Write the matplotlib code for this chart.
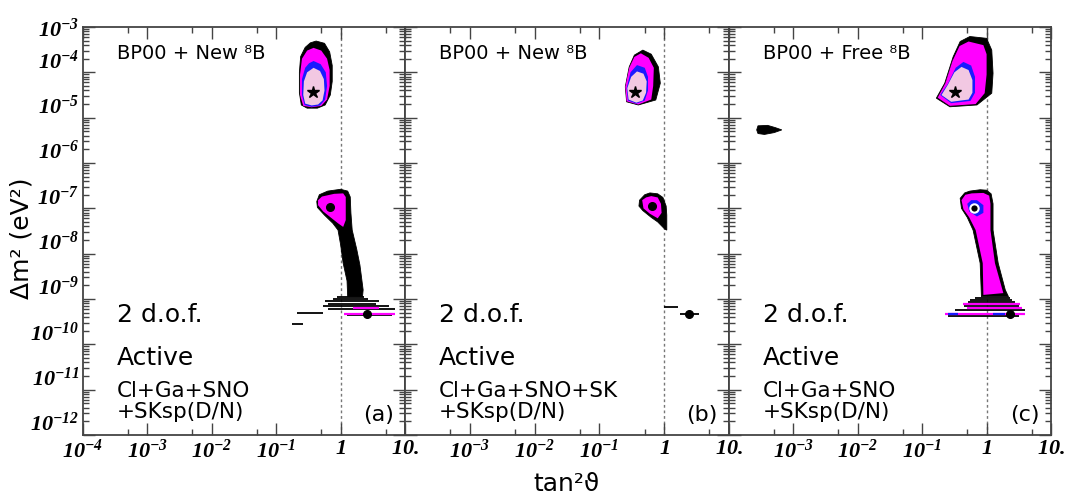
import numpy as np
import matplotlib
matplotlib.use('Agg')
import matplotlib.pyplot as plt
from matplotlib.ticker import FixedLocator, FixedFormatter, NullFormatter

plt.rcParams['font.family'] = ['DejaVu Sans']
plt.rcParams['mathtext.fontset'] = 'custom'
plt.rcParams['mathtext.rm'] = 'Liberation Serif:bold:italic'
plt.rcParams['mathtext.it'] = 'Liberation Serif:bold:italic'
plt.rcParams['mathtext.bf'] = 'Liberation Serif:bold:italic'

# ---------------- data (log10 tan^2, log10 dm^2) ----------------
# panel (a)
a_lma_3s = [(-0.38,-3.31),(-0.25,-3.36),(-0.17,-3.55),(-0.13,-3.85),(-0.13,-4.2),(-0.16,-4.5),(-0.24,-4.72),
            (-0.36,-4.79),(-0.52,-4.79),(-0.61,-4.72),(-0.64,-4.45),(-0.64,-4.0),(-0.62,-3.65),(-0.55,-3.45),(-0.47,-3.35)]
a_lma_99 = [(-0.42,-3.46),(-0.3,-3.52),(-0.21,-3.7),(-0.17,-3.95),(-0.17,-4.3),(-0.21,-4.6),(-0.3,-4.74),
            (-0.45,-4.77),(-0.58,-4.74),(-0.63,-4.5),(-0.63,-4.05),(-0.6,-3.7),(-0.52,-3.52)]
a_lma_95 = [(-0.42,-3.75),(-0.31,-3.82),(-0.23,-4.0),(-0.21,-4.3),(-0.24,-4.6),(-0.32,-4.73),(-0.45,-4.76),
            (-0.56,-4.72),(-0.6,-4.5),(-0.6,-4.15),(-0.55,-3.9),(-0.49,-3.8)]
a_lma_90 = [(-0.42,-3.9),(-0.32,-3.97),(-0.26,-4.15),(-0.25,-4.4),(-0.28,-4.62),(-0.35,-4.71),(-0.45,-4.73),
            (-0.55,-4.69),(-0.58,-4.5),(-0.57,-4.2),(-0.52,-4.0)]
a_low_3s = [(-0.37,-6.85),(-0.33,-6.70),(-0.2,-6.62),(0.0,-6.58),(0.11,-6.62),(0.15,-6.75),(0.16,-7.1),
            (0.18,-7.48),(0.25,-7.9),(0.30,-8.25),(0.35,-8.8),(0.34,-8.95),(0.11,-8.95),(0.1,-8.6),(0.04,-8.21),
            (0.0,-7.8),(-0.04,-7.48),(-0.12,-7.33),(-0.25,-7.15),(-0.36,-6.98)]
a_low_99 = [(-0.35,-6.82),(-0.29,-6.74),(-0.1,-6.68),(0.04,-6.67),(0.08,-6.75),(0.08,-7.26),(0.04,-7.41),
            (-0.04,-7.33),(-0.27,-7.07),(-0.35,-6.93)]
a_streak_k = [(-8.96,-0.05,0.36),(-9.00,-0.12,0.42),(-9.05,-0.24,0.60),(-9.10,-0.20,0.55),
              (-9.16,-0.27,0.75),(-9.22,-0.20,0.85),(-9.30,-0.68,-0.27),(-9.36,0.10,0.80),
              (-9.55,-0.75,-0.58)]
a_streak_m = [(-9.19,0.20,0.60),(-9.33,0.05,0.85)]
a_star = (-0.43,-4.43)
a_dots = [(-0.165,-6.98),(0.41,-9.33)]

# panel (b)
b_lma_3s = [(-0.33,-3.51),(-0.2,-3.6),(-0.09,-3.88),(-0.06,-4.24),(-0.13,-4.61),(-0.4,-4.72),(-0.58,-4.65),
            (-0.6,-4.32),(-0.54,-3.88),(-0.46,-3.62)]
b_lma_99 = [(-0.36,-3.58),(-0.24,-3.68),(-0.16,-3.9),(-0.17,-4.3),(-0.2,-4.6),(-0.4,-4.71),(-0.58,-4.64),
            (-0.6,-4.32),(-0.54,-3.9),(-0.46,-3.66)]
b_lma_95 = [(-0.42,-3.84),(-0.3,-3.9),(-0.25,-4.1),(-0.25,-4.4),(-0.3,-4.62),(-0.43,-4.69),(-0.56,-4.62),
            (-0.58,-4.35),(-0.52,-4.0)]
b_lma_90 = [(-0.42,-3.98),(-0.32,-4.03),(-0.27,-4.2),(-0.28,-4.45),(-0.33,-4.62),(-0.43,-4.67),(-0.55,-4.6),
            (-0.57,-4.35),(-0.51,-4.1)]
b_low_3s = [(-0.38,-6.82),(-0.3,-6.70),(-0.22,-6.66),(-0.1,-6.68),(-0.02,-6.76),(0.03,-6.95),(0.04,-7.15),
            (0.04,-7.48),(0.01,-7.46),(-0.1,-7.3),(-0.2,-7.2),(-0.33,-7.05),(-0.39,-6.95)]
b_low_99 = [(-0.34,-6.82),(-0.28,-6.76),(-0.2,-6.73),(-0.1,-6.76),(-0.05,-6.9),(-0.04,-7.1),(-0.1,-7.22),
            (-0.22,-7.12),(-0.32,-7.0)]
b_streak_k = [(-9.17,0.0,0.22),(-9.33,0.24,0.53)]
b_streak_m = []
b_star = (-0.455,-4.43)
b_dots = [(-0.185,-6.95),(0.39,-9.33)]

# panel (c)
c_lma_3s = [(-0.26,-3.21),(0.0,-3.25),(0.08,-3.51),(0.10,-4.02),(0.08,-4.46),(-0.15,-4.72),(-0.57,-4.76),
            (-0.78,-4.57),(-0.65,-4.24),(-0.52,-3.66),(-0.41,-3.32)]
c_lma_99 = [(-0.28,-3.32),(-0.05,-3.4),(0.0,-3.6),(0.0,-4.05),(-0.03,-4.46),(-0.17,-4.7),(-0.57,-4.74),
            (-0.76,-4.56),(-0.64,-4.24),(-0.53,-3.75),(-0.42,-3.42)]
c_lma_95 = [(-0.36,-3.77),(-0.24,-3.85),(-0.18,-4.1),(-0.18,-4.45),(-0.25,-4.63),(-0.55,-4.68),(-0.72,-4.5),
            (-0.6,-4.25),(-0.48,-3.9)]
c_lma_90 = [(-0.39,-3.88),(-0.28,-3.95),(-0.22,-4.17),(-0.22,-4.45),(-0.28,-4.6),(-0.55,-4.65),(-0.70,-4.5),
            (-0.6,-4.27),(-0.5,-4.0)]
c_low_3s = [(-0.41,-6.78),(-0.34,-6.66),(-0.26,-6.62),(-0.1,-6.59),(0.0,-6.60),(0.07,-6.68),(0.1,-6.9),
            (0.1,-7.48),(0.18,-8.21),(0.29,-8.8),(0.34,-8.95),(-0.08,-8.95),(-0.1,-8.21),(-0.21,-7.48),
            (-0.3,-7.2),(-0.39,-7.0)]
c_low_99 = [(-0.39,-6.82),(-0.33,-6.7),(-0.23,-6.67),(-0.05,-6.66),(0.04,-6.72),(0.06,-6.9),(0.06,-7.48),
            (0.13,-8.21),(0.26,-8.87),(-0.05,-8.91),(-0.06,-8.21),(-0.17,-7.48),(-0.27,-7.2),(-0.36,-7.02)]
c_low_95 = [(-0.30,-6.90),(-0.24,-6.82),(-0.15,-6.82),(-0.05,-6.93),(-0.05,-7.1),(-0.15,-7.18),(-0.27,-7.07)]
c_low_90 = [(-0.24,-6.93),(-0.16,-6.9),(-0.12,-6.98),(-0.14,-7.07),(-0.22,-7.07)]
c_blob_3s = [(-3.55,-5.18),(-3.4,-5.17),(-3.28,-5.22),(-3.18,-5.27),(-3.3,-5.33),(-3.45,-5.37),(-3.55,-5.35),
             (-3.57,-5.27)]
c_streak_k = [(-8.97,-0.18,0.36),(-9.02,-0.25,0.40),(-9.07,-0.29,0.44),(-9.15,-0.35,0.50),
              (-9.24,-0.49,0.60),(-9.38,-0.60,0.50)]
c_streak_m = [(-9.11,-0.37,0.52),(-9.20,-0.30,0.55),(-9.33,-0.65,0.60)]
c_streak_b = [(-9.33,-0.60,-0.45),(-9.33,0.10,0.28)]
c_star = (-0.49,-4.43)
c_dots = [(-0.196,-7.0),(0.36,-9.33)]

titles = ["BP00 + New \u2078B", "BP00 + New \u2078B", "BP00 + Free \u2078B"]
datasets = ["Cl+Ga+SNO\n+SKsp(D/N)", "Cl+Ga+SNO+SK\n+SKsp(D/N)", "Cl+Ga+SNO\n+SKsp(D/N)"]
letters = ["(a)", "(b)", "(c)"]

y_decades = list(range(-12, -2))
y_labels = ["$10^{%d}$" % d for d in y_decades]
x_decades = [-4, -3, -2, -1, 0, 1]
x_labels = ["$10^{-4}$", "$10^{-3}$", "$10^{-2}$", "$10^{-1}$", "$1$", "$10.$"]

COL_3S = '#000000'
COL_99 = '#ff00ff'
COL_95 = '#1a1aff'
COL_90 = '#f2c8e2'

# ---------------- figure ----------------
fig = plt.figure(figsize=(10.68, 4.94), dpi=100)
lefts = [83/1068, 405/1068, 729/1068]
rights = [405/1068, 729/1068, 1051/1068]
bottom = 1 - 435/494
height = 408/494

panels = [
    dict(regions=[(a_lma_3s, COL_3S), (a_lma_99, COL_99), (a_lma_95, COL_95), (a_lma_90, COL_90),
                  (a_low_3s, COL_3S), (a_low_99, COL_99)],
         sk=a_streak_k, sm=a_streak_m, sb=[], star=a_star, dots=a_dots),
    dict(regions=[(b_lma_3s, COL_3S), (b_lma_99, COL_99), (b_lma_95, COL_95), (b_lma_90, COL_90),
                  (b_low_3s, COL_3S), (b_low_99, COL_99)],
         sk=b_streak_k, sm=b_streak_m, sb=[], star=b_star, dots=b_dots),
    dict(regions=[(c_lma_3s, COL_3S), (c_lma_99, COL_99), (c_lma_95, COL_95), (c_lma_90, COL_90),
                  (c_low_3s, COL_3S), (c_low_99, COL_99), (c_low_95, COL_95), (c_low_90, COL_90),
                  (c_blob_3s, COL_3S)],
         sk=c_streak_k, sm=c_streak_m, sb=c_streak_b, star=c_star, dots=c_dots),
]

frame_col = '#444444'
for i, p in enumerate(panels):
    ax = fig.add_axes([lefts[i], bottom, rights[i] - lefts[i], height])
    ax.set_xscale('log')
    ax.set_yscale('log')
    ax.set_xlim(1e-4, 10)
    ax.set_ylim(1e-12, 1e-3)

    ax.axvline(1, color='#777777', ls=(0, (2, 2)), lw=1, zorder=1)

    for poly, col in p['regions']:
        arr = np.array(poly)
        ax.fill(10**arr[:, 0], 10**arr[:, 1], color=col, lw=0.6 if col == COL_3S else 0,
                ec=col, zorder=2)
    for ly, x0, x1 in p['sk']:
        ax.hlines(10**ly, 10**x0, 10**x1, colors='k', lw=1.3, zorder=3)
    for ly, x0, x1 in p['sm']:
        ax.hlines(10**ly, 10**x0, 10**x1, colors=COL_99, lw=1.6, zorder=3)
    for ly, x0, x1 in p['sb']:
        ax.hlines(10**ly, 10**x0, 10**x1, colors=COL_95, lw=1.6, zorder=3)
    sx, sy = p['star']
    ax.plot([10**sx], [10**sy], marker='*', ms=9, color='k', zorder=5, ls='none')
    for j, (dx, dy) in enumerate(p['dots']):
        if i == 2 and j == 0:
            ax.plot([10**dx], [10**dy], marker='o', ms=6, color='k', mec='white', mew=1.5,
                    zorder=5, ls='none')
        else:
            ax.plot([10**dx], [10**dy], marker='o', ms=5.5, color='k', zorder=5, ls='none')

    # ticks
    ax.yaxis.set_major_locator(FixedLocator([10.0**d for d in y_decades]))
    ax.yaxis.set_minor_locator(FixedLocator([m * 10.0**d for d in y_decades[:-1] for m in range(2, 10)]))
    ax.xaxis.set_major_locator(FixedLocator([10.0**d for d in x_decades]))
    ax.xaxis.set_minor_locator(FixedLocator([5 * 10.0**d for d in x_decades[:-1]]))
    ax.yaxis.set_minor_formatter(NullFormatter())
    ax.xaxis.set_minor_formatter(NullFormatter())
    xl = list(x_labels)
    if i > 0:
        xl[0] = ""
    ax.xaxis.set_major_formatter(FixedFormatter(xl))
    if i == 0:
        ax.yaxis.set_major_formatter(FixedFormatter(y_labels))
    else:
        ax.yaxis.set_major_formatter(NullFormatter())

    ax.tick_params(which='both', direction='in', top=True, right=True, color=frame_col,
                   width=1.0)
    ax.tick_params(which='major', length=8.5, labelsize=16, pad=2.5)
    ax.tick_params(which='minor', length=4.5)
    for s in ax.spines.values():
        s.set_color(frame_col)
        s.set_linewidth(1.3)

    if i == 0:
        labs = ax.get_yticklabels()
        for k, lab in enumerate(labs):
            if k < len(labs) - 1:
                lab.set_va('bottom')

    # texts
    ax.text(0.105, 0.936, titles[i], transform=ax.transAxes, fontsize=14, va='center', ha='left')
    ax.text(0.105, 0.294, "2 d.o.f.", transform=ax.transAxes, fontsize=18, va='center', ha='left')
    ax.text(0.105, 0.189, "Active", transform=ax.transAxes, fontsize=18, va='center', ha='left')
    ax.text(0.105, 0.083, datasets[i], transform=ax.transAxes, fontsize=15.5, va='center', ha='left',
            linespacing=1.05)
    ax.text(0.965, 0.049, letters[i], transform=ax.transAxes, fontsize=16, va='center', ha='right')

fig.text(567/1068, 1 - 484/494, "tan\u00b2\u03d1", fontsize=18, ha='center', va='center')
fig.text(22/1068, 1 - 238/494, "\u0394m\u00b2 (eV\u00b2)", fontsize=18, ha='center', va='center',
         rotation=90)

fig.savefig('out.png', dpi=100)
